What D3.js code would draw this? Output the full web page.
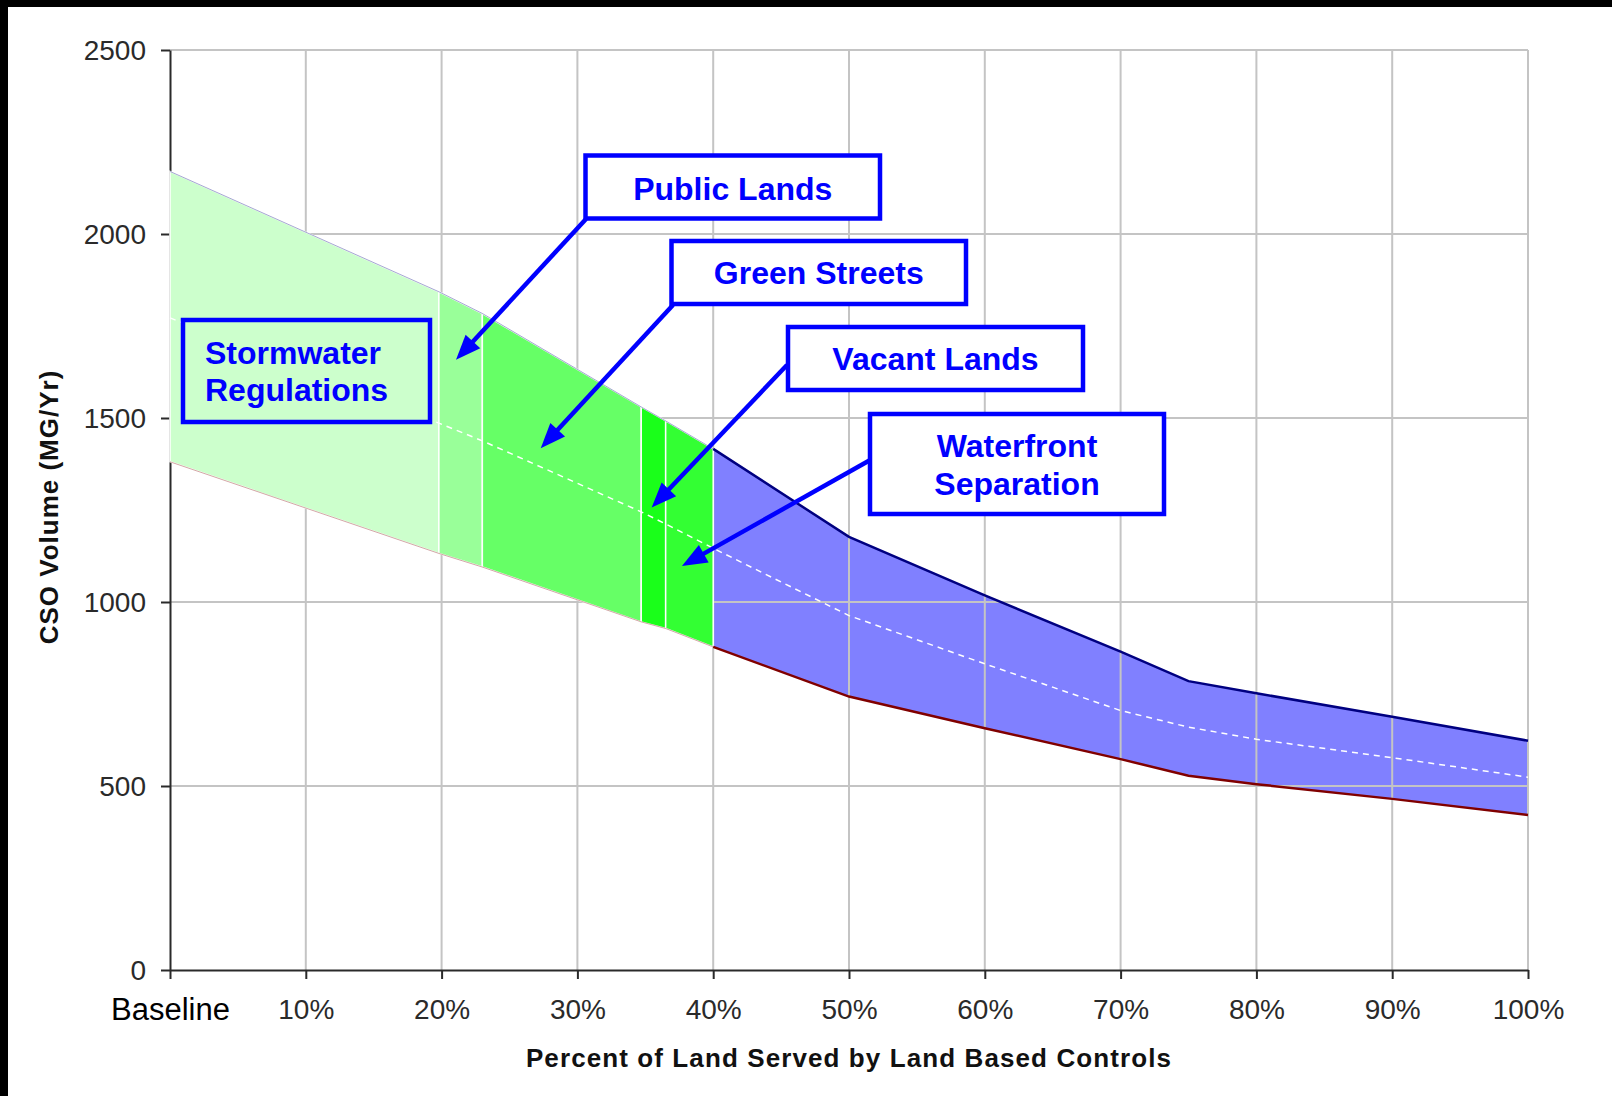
<!DOCTYPE html>
<html>
<head>
<meta charset="utf-8">
<script src="https://cdn.jsdelivr.net/npm/d3@7"></script>
<style>
  html, body { margin: 0; padding: 0; background: #fff; }
  svg { display: block; font-family: "Liberation Sans", Arial, sans-serif; }
  .grid line { stroke: #c4c4c4; stroke-width: 2; }
  .axis path, .axis line { stroke: #2a2a2a; stroke-width: 2; }
  .axis text { font-size: 28px; fill: #2a2a2a; }
  .note text { font-size: 32px; font-weight: bold; fill: #0000ff; }
</style>
</head>
<body>
<svg width="1612" height="1096"></svg>
<script>
// values (percent of land, MG/Yr)
var landPct     = [0, 19.8, 23, 34.7, 36.5, 40, 50, 60, 70, 75, 80, 90, 100];
var upperVolume = [2170, 1843, 1784, 1530, 1492, 1416, 1177, 1018, 865, 785, 752, 688, 623];
var lowerVolume = [1381, 1132, 1095, 946, 928, 878, 743, 657, 573, 528, 505, 465, 421];
var midVolume   = [1772, 1486, 1438, 1245, 1212, 1146, 963, 832, 705, 660, 627, 577, 524];

var programs     = ["Stormwater Regulations", "Public Lands", "Green Streets", "Vacant Lands", "Waterfront Separation", "Remaining"];
var programStart = [0, 19.8, 23, 34.7, 36.5, 40];
var programEnd   = [19.8, 23, 34.7, 36.5, 40, 100];
var programColor = ["#ccffcc", "#99ff99", "#66ff66", "#1aff1a", "#33ff33", "#8080ff"];

var xTicks = [0, 10, 20, 30, 40, 50, 60, 70, 80, 90, 100];
var xTickLabels = ["Baseline", "10%", "20%", "30%", "40%", "50%", "60%", "70%", "80%", "90%", "100%"];
var yTicks = [0, 500, 1000, 1500, 2000, 2500];

var svg = d3.select("svg"),
    margin = {top: 50, right: 84, bottom: 126, left: 170},
    width = +svg.attr("width") - margin.left - margin.right,
    height = +svg.attr("height") - margin.top - margin.bottom;

var data = landPct.map(function(p, i) {
  return {pct: p, hi: upperVolume[i], lo: lowerVolume[i], mid: midVolume[i]};
});

var x = d3.scaleLinear().domain([0, 100]).range([0, width]);
var y = d3.scaleLinear().domain([0, 2500]).range([height, 0]);

// black frame on top and left
svg.append("rect").attr("width", 1612).attr("height", 1096).attr("fill", "#fff");
svg.append("rect").attr("width", 1612).attr("height", 7).attr("fill", "#000");
svg.append("rect").attr("width", 8).attr("height", 1096).attr("fill", "#000");

var g = svg.append("g")
    .attr("transform", "translate(" + margin.left + "," + margin.top + ")");

var area = d3.area()
    .x(function(d) { return x(d.pct); })
    .y0(function(d) { return y(d.lo); })
    .y1(function(d) { return y(d.hi); });

function slice(a, b) {
  return data.filter(function(d) { return d.pct >= a && d.pct <= b; });
}

// blue band sits under the grid
g.append("path")
    .datum(slice(programStart[5], programEnd[5]))
    .attr("fill", programColor[5])
    .attr("d", area);

var grid = g.append("g").attr("class", "grid");
grid.selectAll(".v").data(xTicks.slice(1)).enter().append("line")
    .attr("x1", x).attr("x2", x)
    .attr("y1", 0).attr("y2", height);
grid.selectAll(".h").data(yTicks.slice(1)).enter().append("line")
    .attr("x1", 0).attr("x2", width)
    .attr("y1", y).attr("y2", y);

g.append("g")
    .attr("class", "axis axis--y")
    .call(d3.axisLeft(y).tickValues(yTicks).tickFormat(d3.format("d"))
      .tickSize(9).tickPadding(15).tickSizeOuter(0))
    .selectAll("text").attr("dy", "0.35em");

// green program bands
for (var i = 0; i < 5; i++) {
  g.append("path")
      .datum(slice(programStart[i], programEnd[i]))
      .attr("fill", programColor[i])
      .attr("stroke", "#fff")
      .attr("stroke-width", 1.5)
      .attr("d", area);
}

var line = function(key) {
  return d3.line().x(function(d) { return x(d.pct); }).y(function(d) { return y(d[key]); });
};

// faint bound lines under the green part
var early = slice(0, 40);
g.append("path").datum(early).attr("fill", "none").attr("stroke", "#000080")
    .attr("stroke-opacity", 0.35).attr("stroke-width", 1).attr("d", line("hi"));
g.append("path").datum(early).attr("fill", "none").attr("stroke", "#800000")
    .attr("stroke-opacity", 0.35).attr("stroke-width", 1).attr("d", line("lo"));

var late = slice(40, 100);
g.append("path").datum(late).attr("fill", "none").attr("stroke", "#000080")
    .attr("stroke-width", 2.5).attr("d", line("hi"));
g.append("path").datum(late).attr("fill", "none").attr("stroke", "#800000")
    .attr("stroke-width", 2.5).attr("d", line("lo"));

g.append("path").datum(data)
    .attr("fill", "none")
    .attr("stroke", "#fff")
    .attr("stroke-width", 1.5)
    .attr("stroke-dasharray", "6,5")
    .attr("d", line("mid"));

var xAxis = g.append("g")
    .attr("class", "axis axis--x")
    .attr("transform", "translate(0," + height + ")")
    .call(d3.axisBottom(x).tickValues(xTicks).tickSize(9).tickPadding(20).tickSizeOuter(0)
      .tickFormat(function(d, i) { return xTickLabels[i]; }));
xAxis.selectAll("text").attr("dy", "0.71em");
xAxis.selectAll("text").filter(function(d) { return d === 0; })
    .style("font-size", "31px").style("fill", "#000").attr("dy", "0.68em");

svg.append("text")
    .attr("x", margin.left + width / 2)
    .attr("y", 1067)
    .attr("text-anchor", "middle")
    .style("font-size", "26px").style("font-weight", "bold")
    .style("letter-spacing", "1.1px").style("fill", "#111")
    .text("Percent of Land Served by Land Based Controls");

svg.append("text")
    .attr("transform", "translate(58," + 507 + ") rotate(-90)")
    .attr("text-anchor", "middle")
    .style("font-size", "26px").style("font-weight", "bold")
    .style("letter-spacing", "1px").style("fill", "#111")
    .text("CSO Volume (MG/Yr)");

// callout boxes (page pixels) with arrows pointing into the data
var notes = [
  {lines: ["Stormwater", "Regulations"], box: [183, 320, 247, 102], anchor: "start", tx: 205, ty: [364, 401], fill: programColor[0]},
  {lines: ["Public Lands"], box: [585.5, 155.5, 294.5, 63], anchor: "middle", ty: [200], from: [586, 219], tip: [21.06, 1658]},
  {lines: ["Green Streets"], box: [671.5, 241, 294.5, 63], anchor: "middle", ty: [284], from: [673, 305], tip: [27.3, 1418]},
  {lines: ["Vacant Lands"], box: [788, 327, 295, 63], anchor: "middle", ty: [370], from: [787, 365], tip: [35.47, 1257]},
  {lines: ["Waterfront", "Separation"], box: [870, 414, 294, 100], anchor: "middle", ty: [457, 495], from: [872, 459], tip: [37.7, 1098]}
];

var note = svg.append("g").attr("class", "note");

notes.forEach(function(n) {
  if (n.tip) {
    var tx = margin.left + x(n.tip[0]), ty = margin.top + y(n.tip[1]);
    var dx = tx - n.from[0], dy = ty - n.from[1], len = Math.sqrt(dx * dx + dy * dy);
    var ux = dx / len, uy = dy / len, hl = 25, hw = 10;
    var bx = tx - ux * hl, by = ty - uy * hl;
    note.append("line")
        .attr("x1", n.from[0]).attr("y1", n.from[1])
        .attr("x2", bx + ux * 2).attr("y2", by + uy * 2)
        .attr("stroke", "#0000ff").attr("stroke-width", 4.5);
    note.append("path")
        .attr("fill", "#0000ff")
        .attr("d", "M" + tx + "," + ty +
          "L" + (bx - uy * hw) + "," + (by + ux * hw) +
          "L" + (bx + uy * hw) + "," + (by - ux * hw) + "Z");
  }
  note.append("rect")
      .attr("x", n.box[0]).attr("y", n.box[1])
      .attr("width", n.box[2]).attr("height", n.box[3])
      .attr("fill", n.fill || "#fff")
      .attr("stroke", "#0000ff").attr("stroke-width", 4.5);
  n.lines.forEach(function(t, k) {
    note.append("text")
        .attr("x", n.anchor === "start" ? n.tx : n.box[0] + n.box[2] / 2)
        .attr("y", n.ty[k])
        .attr("text-anchor", n.anchor)
        .text(t);
  });
});
</script>
</body>
</html>
